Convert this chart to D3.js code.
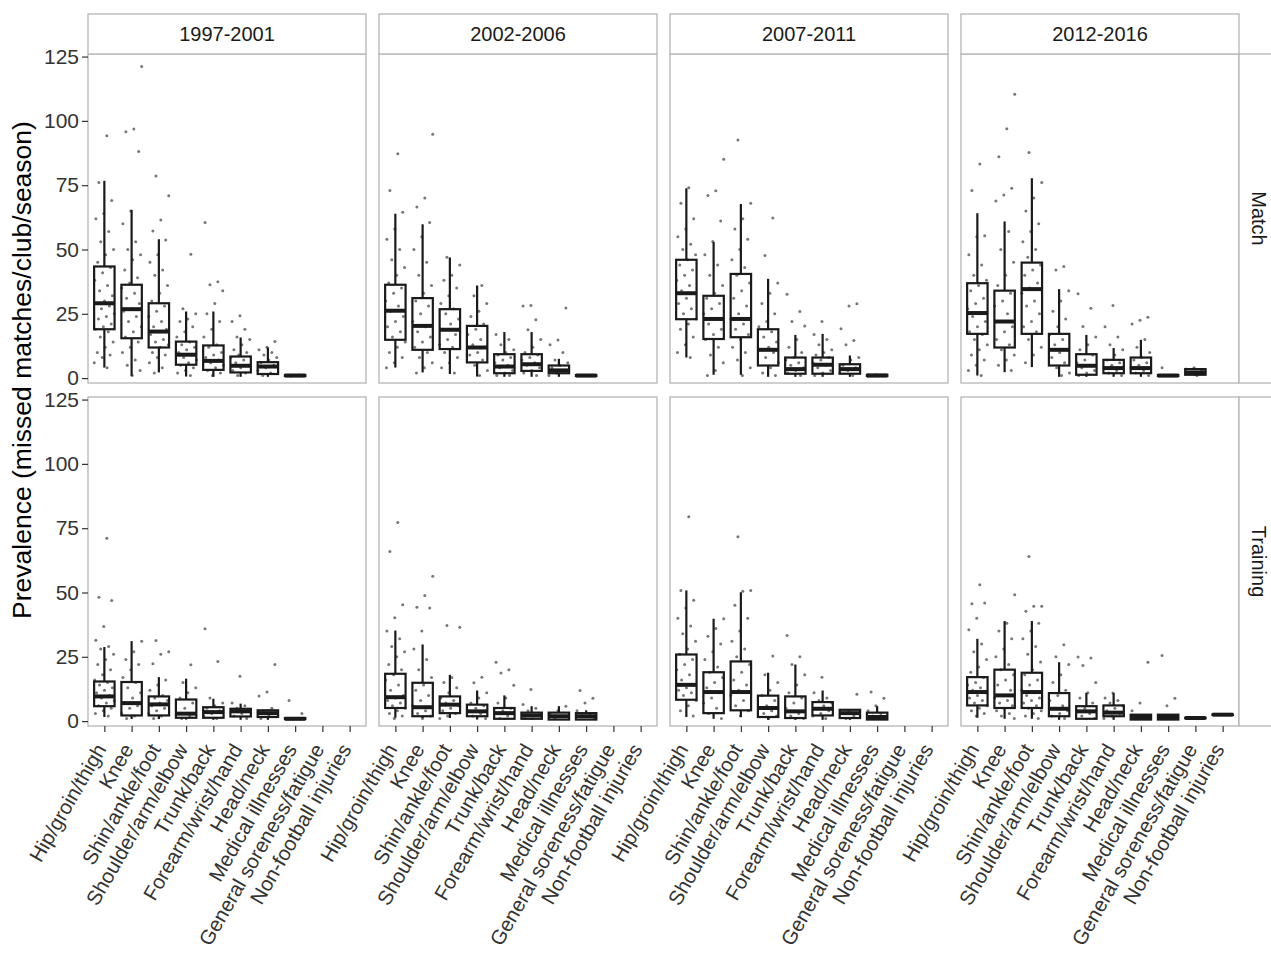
<!DOCTYPE html>
<html>
<head>
<meta charset="utf-8">
<script src="https://cdn.jsdelivr.net/npm/d3@7"></script>
<style>
    body { margin: 0; background: #fff; }
    svg text { font-family: "Liberation Sans", Arial, sans-serif; }
</style>
</head>
<body>
<div id="chart"></div>
<script>
let periods = ['1997-2001', '2002-2006', '2007-2011', '2012-2016'];
let settings = ['Match', 'Training'];
let categories = ['Hip/groin/thigh', 'Knee', 'Shin/ankle/foot', 'Shoulder/arm/elbow', 'Trunk/back',
    'Forearm/wrist/hand', 'Head/neck', 'Medical illnesses', 'General soreness/fatigue', 'Non-football injuries'];
let yTicks = [0, 25, 50, 75, 100, 125];

// box = [lower whisker, q1, median, q3, upper whisker]; null where no box
let matchBoxes1997 = [[4.1, 19.0, 29.1, 43.4, 76.7], [0.9, 15.5, 26.8, 36.3, 65.4], [2.2, 11.9, 18.1, 29.1, 54.0],
    [0.6, 5.2, 9.1, 14.2, 25.9], [0.5, 3.2, 6.7, 12.7, 25.9], [0.5, 2.2, 4.8, 8.4, 15.8], [0.5, 1.6, 4.5, 6.2, 11.9],
    [0.5, 0.8, 1.0, 1.2, 1.5], null, null];
let matchPoints1997 = [
    [94.2, 76, 69, 64, 62, 57, 53, 50, 48, 45, 43, 41, 38, 36, 34, 32, 30, 29, 28, 27, 25, 24, 23, 21, 20, 19, 18, 16, 14, 12, 10, 9, 8, 6, 4],
    [121.1, 96.8, 95.8, 88.1, 65, 60, 53, 50, 48, 46, 42, 39, 37, 35, 33, 31, 29, 27, 26, 24, 22, 20, 18, 16, 14, 12, 10, 7, 5, 3, 1],
    [78.6, 70.9, 61.5, 57.2, 53.7, 48, 45, 42, 40, 36, 33, 30, 28, 26, 24, 22, 20, 19, 18, 17, 15, 14, 13, 12, 10, 9, 8, 6, 4, 2],
    [48.2, 27, 25, 23, 22, 20, 18, 16, 14, 13, 12, 11, 10, 9, 8, 7, 6, 5, 4, 3, 2, 1],
    [60.5, 37.5, 36.3, 34, 29, 25, 22, 19, 16, 13, 12, 10, 9, 8, 7, 6, 5, 4, 3, 2, 1],
    [24.2, 22, 19, 16, 15, 13, 11, 10, 9, 8, 7, 6, 5, 4, 3, 2, 1],
    [14.2, 12, 11, 10, 9, 8, 7, 6, 5, 4, 3, 2, 1],
    [1, 1, 1, 1, 1.2, 0.8], [], []];

let matchBoxes2002 = [[4.1, 14.9, 26.2, 36.3, 63.9], [2.2, 11.0, 20.3, 31.1, 59.8], [1.6, 11.3, 18.8, 26.8, 46.9],
    [0.6, 6.1, 11.9, 20.3, 36.0], [0.5, 1.9, 4.5, 9.3, 17.9], [0.5, 2.8, 5.4, 9.3, 17.9], [0.5, 1.9, 3.0, 4.9, 7.5],
    [0.5, 0.8, 1.0, 1.2, 1.5], null, null];
let matchPoints2002 = [
    [87.2, 72.9, 64.5, 58, 54, 50, 46, 43, 40, 37, 35, 33, 30, 28, 26, 24, 22, 20, 18, 16, 14, 12, 10, 8, 6, 4],
    [94.8, 70.0, 66.5, 60.5, 55, 50, 45, 40, 36, 33, 30, 28, 25, 22, 20, 18, 16, 14, 12, 10, 8, 6, 4, 2],
    [47, 44, 40, 38, 35, 32, 29, 27, 25, 23, 21, 19, 17, 15, 13, 12, 10, 8, 6, 4, 2],
    [36, 32, 29, 26, 24, 21, 19, 17, 15, 13, 12, 10, 9, 7, 5, 3, 1],
    [17, 15, 13, 11, 10, 9, 8, 7, 6, 5, 4, 3, 2, 1, 1],
    [28.2, 28.0, 22.7, 18.8, 15, 12, 10, 9, 8, 7, 6, 5, 4, 3, 2, 1],
    [27.3, 14.8, 13, 10, 7, 6, 5, 4, 3, 2, 1],
    [1, 1, 1, 1], [], []];

let matchBoxes2007 = [[8.0, 22.9, 33.0, 46.0, 73.8], [1.3, 15.2, 23.0, 32.0, 52.9], [1.3, 15.9, 23.0, 40.5, 67.7],
    [0.5, 4.9, 11.0, 19.0, 38.6], [0.5, 1.7, 3.5, 8.0, 16.8], [0.5, 1.7, 5.2, 8.0, 17.2], [0.5, 1.7, 3.5, 5.4, 8.8],
    [0.5, 0.8, 1.0, 1.3, 1.6], null, null];
let matchPoints2007 = [
    [74, 68, 62, 58, 55, 52, 50, 48, 46, 44, 42, 40, 38, 36, 34, 33, 31, 29, 27, 25, 23, 21, 19, 16, 13, 10, 8],
    [85.1, 72.8, 71.0, 61.1, 53.1, 48, 44, 40, 36, 33, 31, 29, 27, 25, 23, 21, 19, 17, 15, 12, 9, 6, 3, 1],
    [92.6, 68, 62, 58, 54, 50, 46, 43, 40, 37, 34, 31, 28, 25, 23, 21, 19, 17, 15, 12, 10, 7, 4, 1],
    [62.2, 47.7, 37, 33, 29, 25, 22, 20, 18, 16, 14, 12, 11, 10, 8, 6, 4, 2, 1],
    [32.6, 25.9, 22.0, 20.3, 15, 12, 10, 8, 7, 6, 5, 4, 3, 2, 1],
    [22.0, 17, 15, 13, 11, 10, 9, 8, 7, 6, 5, 4, 3, 2, 1],
    [28.9, 28.0, 19.2, 14.6, 13, 8, 7, 5, 4, 3, 2, 1],
    [1, 1, 1.3, 0.8], [], []];

let matchBoxes2012 = [[1.0, 17.2, 25.3, 36.9, 64.1], [2.3, 11.9, 22.0, 34.0, 60.9], [4.3, 17.2, 34.6, 44.9, 77.7],
    [0.5, 4.9, 11.0, 17.2, 34.6], [0.5, 1.3, 4.8, 9.3, 16.8], [0.5, 1.9, 3.9, 7.1, 11.7], [0.5, 1.9, 3.9, 8.0, 14.9],
    [0.5, 0.8, 1.0, 1.2, 1.5], [1.0, 1.3, 2.2, 3.5, 4.0], null];
let matchPoints2012 = [
    [83.2, 72.9, 55.3, 55, 48, 44, 40, 38, 36, 34, 31, 29, 27, 25, 24, 22, 20, 18, 17, 15, 13, 11, 9, 7, 5, 3, 1],
    [110.4, 96.9, 86.1, 73.8, 71.2, 68.9, 57, 50, 45, 40, 36, 33, 30, 28, 25, 22, 20, 18, 15, 13, 11, 9, 7, 5, 3],
    [87.7, 76, 70, 65, 60, 57, 53, 50, 47, 44, 42, 40, 37, 35, 33, 30, 28, 25, 22, 20, 18, 15, 12, 9, 6],
    [43.4, 42, 34, 30, 26, 23, 20, 17, 15, 13, 11, 10, 8, 6, 4, 2, 1],
    [32.8, 27.2, 20.1, 16, 13, 11, 9, 7, 6, 5, 4, 3, 2, 1],
    [28.2, 20, 16, 13, 11, 9, 7, 6, 5, 4, 3, 2, 1],
    [23.7, 22.5, 21, 15, 12, 10, 8, 7, 6, 5, 4, 3, 2, 1],
    [4, 1, 1, 1], [1, 2, 3, 4, 3.5, 2], []];

let trainingBoxes1997 = [[1.6, 5.8, 9.6, 15.4, 28.8], [0.8, 2.2, 7.0, 15.2, 31.1], [0.8, 2.2, 6.5, 9.6, 17.1],
    [0.6, 1.3, 2.9, 8.4, 16.5], [0.5, 1.3, 3.5, 5.4, 8.7], [0.5, 1.8, 3.8, 4.8, 6.8], [0.5, 1.6, 3.1, 4.2, 4.5],
    [0.5, 0.8, 0.9, 1.2, 1.5], null, null];
let trainingPoints1997 = [
    [71.1, 48.2, 46.9, 36.8, 31.4, 29, 28, 26, 24, 22, 20, 18, 16, 15, 14, 13, 12, 11, 10, 9, 8, 7, 6, 5, 4, 3, 2],
    [31, 27, 24, 22, 20, 17, 15, 13, 11, 9, 7, 6, 5, 3, 2, 1],
    [31.3, 27, 26, 22.3, 16, 14, 12, 10, 9, 8, 7, 6, 5, 4, 3, 2, 1],
    [21.9, 15, 13, 11, 9, 7, 5, 3, 2, 1],
    [35.9, 23.2, 9, 7, 6, 5, 4, 3, 2, 1],
    [17.4, 7, 6, 5, 4, 3, 2, 1],
    [22.0, 11.3, 9.8, 5, 4, 3, 2, 1],
    [8.0, 3, 1, 1], [], []];

let trainingBoxes2002 = [[1.3, 5.1, 9.3, 18.4, 35.2], [1.2, 1.9, 5.4, 14.9, 29.8], [1.2, 3.1, 6.4, 9.6, 18.0],
    [0.6, 1.9, 3.8, 6.4, 11.9], [0.5, 0.9, 3.1, 5.1, 10.0], [0.5, 0.9, 2.2, 3.3, 5.8], [0.5, 0.6, 1.9, 3.3, 5.8],
    [0.5, 0.6, 1.9, 3.1, 4.2], null, null];
let trainingPoints2002 = [
    [77.2, 65.9, 45.2, 40.2, 35, 32, 29, 27, 25, 22, 20, 18, 16, 14, 12, 10, 9, 8, 7, 6, 5, 4, 3, 2, 1],
    [56.3, 48.8, 44.3, 44.0, 35, 28, 24, 20, 17, 14, 12, 10, 8, 6, 4, 3, 2, 1],
    [37.2, 36.5, 17, 15, 13, 11, 9, 8, 7, 6, 5, 4, 3, 2, 1],
    [17.1, 14.9, 11, 9, 7, 6, 5, 4, 3, 2, 1],
    [22.9, 20.0, 18.7, 13.9, 9, 7, 5, 4, 3, 2, 1],
    [12.3, 6.5, 5, 4, 3, 2, 1],
    [5.8, 4, 3, 2, 1],
    [11.9, 8.9, 7, 4, 3, 2, 1], [], []];

let trainingBoxes2007 = [[1.6, 8.3, 14.1, 25.9, 50.8], [0.9, 3.1, 11.3, 19.0, 39.8], [1.6, 4.2, 11.3, 23.2, 50.1],
    [0.5, 1.6, 5.1, 9.9, 18.8], [0.5, 1.2, 3.8, 9.6, 22.0], [0.5, 2.2, 4.8, 7.4, 11.9], [0.5, 1.2, 3.1, 4.4, 4.4],
    [0.5, 0.6, 1.6, 3.3, 5.8], null, null];
let trainingPoints2007 = [
    [79.4, 50.8, 47, 44, 40, 37, 34, 31, 28, 26, 24, 22, 20, 18, 16, 14, 13, 12, 11, 10, 8, 6, 4, 2],
    [39.8, 36, 33, 30, 27, 24, 21, 19, 17, 15, 13, 11, 9, 7, 5, 3, 1],
    [71.7, 50.8, 50.5, 45, 40, 35, 31, 28, 25, 22, 19, 16, 14, 12, 10, 8, 6, 4, 2],
    [25.3, 18, 15, 12, 10, 8, 6, 5, 4, 3, 2, 1],
    [33.3, 25, 22, 18, 14, 11, 9, 7, 5, 3, 2, 1],
    [17.1, 11, 9, 8, 7, 6, 5, 4, 3, 2, 1],
    [10.4, 4, 3, 2, 1],
    [11.3, 8.9, 6, 4, 3, 2, 1], [], []];

let trainingBoxes2012 = [[1.3, 6.1, 11.3, 17.1, 32.0], [0.9, 5.1, 10.0, 20.0, 38.9], [0.9, 5.1, 11.3, 18.8, 38.9],
    [0.5, 1.9, 4.8, 10.9, 22.9], [0.5, 0.9, 3.8, 5.8, 11.0], [0.5, 1.9, 3.3, 6.1, 10.9], [0.5, 0.6, 1.6, 2.5, 2.5],
    [0.5, 0.6, 1.6, 2.5, 2.5], [1.0, 1.1, 1.2, 1.3, 1.4], [2.3, 2.4, 2.5, 2.6, 2.7]];
let trainingPoints2012 = [
    [53.0, 45.6, 45.9, 40.0, 35.5, 30, 27, 24, 21, 19, 17, 15, 14, 13, 12, 11, 10, 9, 8, 7, 6, 5, 4, 3, 2],
    [49.1, 38, 35, 32, 28, 25, 22, 20, 18, 16, 14, 12, 10, 9, 8, 7, 6, 5, 4, 3, 2, 1],
    [64.0, 44.7, 44.7, 42.7, 38, 35, 32, 29, 26, 23, 20, 18, 16, 14, 12, 11, 10, 9, 8, 7, 6, 5, 4, 3, 2, 1],
    [29.7, 25.0, 22, 18, 15, 12, 10, 8, 6, 5, 4, 3, 2, 1],
    [24.9, 24.5, 21.6, 15, 11, 9, 7, 5, 4, 3, 2, 1],
    [10.9, 9, 8, 7, 6, 5, 4, 3, 2, 1],
    [22.9, 7, 4, 2, 1],
    [25.5, 8.9, 6, 2, 1], [1.2], [2.5]];

let boxesBySetting = {
    Match: [matchBoxes1997, matchBoxes2002, matchBoxes2007, matchBoxes2012],
    Training: [trainingBoxes1997, trainingBoxes2002, trainingBoxes2007, trainingBoxes2012]
};
let pointsBySetting = {
    Match: [matchPoints1997, matchPoints2002, matchPoints2007, matchPoints2012],
    Training: [trainingPoints1997, trainingPoints2002, trainingPoints2007, trainingPoints2012]
};

let width = 1271,
    height = 954,
    panelLeft = 88,
    panelTop = 54,
    panelW = 278,
    panelH = 329,
    colGap = 13,
    rowGap = 14,
    stripSize = 40,
    borderColor = '#b5b5b5';

let svg = d3.select('#chart').append('svg')
    .attr('width', width)
    .attr('height', height);

let xScale = d3.scalePoint()
    .domain(categories)
    .range([0, panelW])
    .padding(0.6);

let yScale = d3.scaleLinear()
    .domain([-1.9, 126])
    .range([panelH, 0]);

let boxW = xScale.step() * 0.75;

// cheap deterministic jitter, positions only
function jitter(i, k) {
    let f = ((i + 1) * 0.6180339 + k * 0.37) % 1;
    return (f - 0.5) * 2 * 0.38 * xScale.step();
}

function drawPanel(g, boxes, points) {
    g.append('rect')
        .attr('width', panelW)
        .attr('height', panelH)
        .attr('fill', '#fff');

    categories.forEach((cat, k) => {
        let cx = xScale(cat);
        g.append('g').selectAll('circle')
            .data(points[k])
            .join('circle')
            .attr('cx', (d, i) => cx + jitter(i, k))
            .attr('cy', d => yScale(d))
            .attr('r', 1.5)
            .attr('fill', '#4a4a4a')
            .attr('opacity', 0.75);
    });

    let b = g.append('g').selectAll('g')
        .data(categories.map((c, k) => ({cat: c, s: boxes[k]})).filter(d => d.s))
        .join('g')
        .attr('transform', d => `translate(${xScale(d.cat)},0)`);

    b.append('line')
        .attr('y1', d => yScale(d.s[3]))
        .attr('y2', d => yScale(d.s[4]))
        .attr('stroke', '#1a1a1a')
        .attr('stroke-width', 2.2);

    b.append('line')
        .attr('y1', d => yScale(d.s[1]))
        .attr('y2', d => yScale(d.s[0]))
        .attr('stroke', '#1a1a1a')
        .attr('stroke-width', 2.2);

    b.append('rect')
        .attr('x', -boxW / 2)
        .attr('width', boxW)
        .attr('y', d => yScale(d.s[3]))
        .attr('height', d => Math.max(0.5, yScale(d.s[1]) - yScale(d.s[3])))
        .attr('fill', 'none')
        .attr('stroke', '#1a1a1a')
        .attr('stroke-width', 2.2);

    b.append('line')
        .attr('x1', -boxW / 2)
        .attr('x2', boxW / 2)
        .attr('y1', d => yScale(d.s[2]))
        .attr('y2', d => yScale(d.s[2]))
        .attr('stroke', '#1a1a1a')
        .attr('stroke-width', 4);

    g.append('rect')
        .attr('width', panelW)
        .attr('height', panelH)
        .attr('fill', 'none')
        .attr('stroke', borderColor)
        .attr('stroke-width', 1.3);
}

settings.forEach((setting, r) => {
    periods.forEach((period, c) => {
        let px = panelLeft + c * (panelW + colGap),
            py = panelTop + r * (panelH + rowGap);
        let g = svg.append('g')
            .attr('transform', `translate(${px}, ${py})`);

        drawPanel(g, boxesBySetting[setting][c], pointsBySetting[setting][c]);

        if (r === 0) {
            g.append('rect')
                .attr('y', -stripSize)
                .attr('width', panelW)
                .attr('height', stripSize)
                .attr('fill', '#fff')
                .attr('stroke', borderColor)
                .attr('stroke-width', 1.3);
            g.append('text')
                .attr('x', panelW / 2)
                .attr('y', -stripSize / 2)
                .attr('dy', '0.36em')
                .attr('text-anchor', 'middle')
                .attr('fill', '#1a1a1a')
                .style('font-size', '20px')
                .text(period);
        }

        if (c === periods.length - 1) {
            g.append('rect')
                .attr('x', panelW)
                .attr('width', stripSize + 4)
                .attr('height', panelH)
                .attr('fill', '#fff')
                .attr('stroke', borderColor)
                .attr('stroke-width', 1.3);
            g.append('text')
                .attr('transform', `translate(${panelW + stripSize / 2 - 7}, ${panelH / 2}) rotate(90)`)
                .attr('text-anchor', 'middle')
                .attr('fill', '#1a1a1a')
                .style('font-size', '20px')
                .text(setting);
        }

        if (c === 0) {
            let ya = g.append('g')
                .attr('class', 'y-axis')
                .call(d3.axisLeft(yScale).tickValues(yTicks).tickSize(6).tickPadding(3));
            ya.select('.domain').remove();
            ya.selectAll('line').attr('stroke', '#333').attr('stroke-width', 1.2);
            ya.selectAll('text')
                .attr('fill', '#333')
                .style('font-size', '21px');
        }

        if (r === settings.length - 1) {
            let xa = g.append('g')
                .attr('class', 'x-axis')
                .attr('transform', `translate(0, ${panelH})`)
                .call(d3.axisBottom(xScale).tickSize(6));
            xa.select('.domain').remove();
            xa.selectAll('line').attr('stroke', '#333').attr('stroke-width', 1.2);
            xa.selectAll('text')
                .attr('x', 0)
                .attr('y', 0)
                .attr('dy', 0)
                .attr('transform', 'translate(2, 23) rotate(-60)')
                .style('text-anchor', 'end')
                .attr('fill', '#333')
                .style('font-size', '20.5px');
        }
    });
});

svg.append('text')
    .attr('transform', `translate(31, ${(panelTop - stripSize + panelTop + 2 * panelH + rowGap) / 2}) rotate(-90)`)
    .attr('text-anchor', 'middle')
    .attr('fill', '#000')
    .style('font-size', '26.5px')
    .text('Prevalence (missed matches/club/season)');
</script>
</body>
</html>
